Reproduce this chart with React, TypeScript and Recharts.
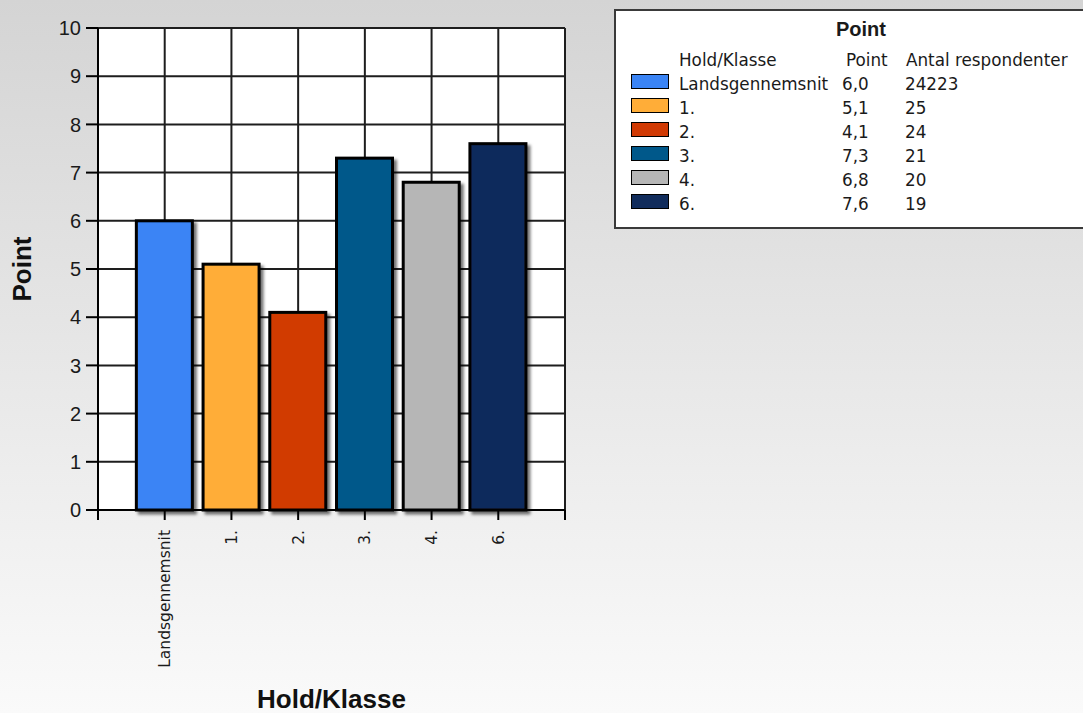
import React from 'react';
import {
  BarChart,
  Bar,
  Cell,
  XAxis,
  YAxis,
  CartesianGrid,
  Legend,
  Label,
} from 'recharts';

// Hold/Klasse categories and their scores
const categories = ['Landsgennemsnit', '1.', '2.', '3.', '4.', '6.'];
const points = [6.0, 5.1, 4.1, 7.3, 6.8, 7.6];
const respondents = [24223, 25, 24, 21, 20, 19];
const colors = ['#3a84f5', '#ffad38', '#d13a04', '#00588a', '#b6b6b6', '#112c5c'];
const yTicks = [0, 1, 2, 3, 4, 5, 6, 7, 8, 9, 10];

const data = categories.map((name, i) => ({
  pos: i + 1,
  name,
  point: points[i],
}));

// one slot of padding on each side of the bars, like the original
const xTicks = Array.from({ length: categories.length + 2 }, (_, i) => i);

const fmt = (v: number) => v.toFixed(1).replace('.', ',');

function ShadowBar(props: any) {
  const { x, y, width, height, fill, index } = props;
  const id = `bar-shadow-${index}`;
  return (
    <g>
      <defs>
        <filter id={id} x="-20%" y="-20%" width="150%" height="150%">
          <feDropShadow dx="3" dy="3" stdDeviation="1.6" floodColor="#000" floodOpacity="0.55" />
        </filter>
      </defs>
      <rect
        x={x}
        y={y}
        width={width}
        height={height}
        fill={fill}
        stroke="#000"
        strokeWidth={3}
        filter={`url(#${id})`}
      />
    </g>
  );
}

function XTick(props: any) {
  const { x, y, payload } = props;
  const label = categories[payload.value - 1];
  if (!label) return null;
  return (
    <text
      x={x}
      y={y}
      dy="0.36em"
      transform={`rotate(-90, ${x}, ${y})`}
      textAnchor="end"
      fill="#1a1a1a"
      fontSize={15.5}
      fontFamily="DejaVu Sans"
    >
      {label}
    </text>
  );
}

const legendFont = { fontFamily: 'DejaVu Sans', fontSize: 16.8, color: '#1a1a1a' };

function PointTable() {
  const rowTop = (k: number) => 36.7 + 24 * k;
  return (
    <div
      style={{
        position: 'relative',
        width: 490,
        height: 216,
        border: '2px solid #3a3a3a',
        background: '#fff',
        ...legendFont,
      }}
    >
      <div
        style={{
          position: 'absolute',
          top: 5.8,
          left: 0,
          width: '100%',
          height: 24,
          lineHeight: '24px',
          textAlign: 'center',
          fontFamily: 'Liberation Sans',
          fontWeight: 'bold',
          fontSize: 20,
        }}
      >
        Point
      </div>
      <div style={{ position: 'absolute', top: rowTop(0), height: 24, lineHeight: '24px', left: 63 }}>
        Hold/Klasse
      </div>
      <div style={{ position: 'absolute', top: rowTop(0), height: 24, lineHeight: '24px', left: 230 }}>
        Point
      </div>
      <div style={{ position: 'absolute', top: rowTop(0), height: 24, lineHeight: '24px', left: 290 }}>
        Antal respondenter
      </div>
      {categories.map((name, i) => (
        <React.Fragment key={name}>
          <div
            style={{
              position: 'absolute',
              top: rowTop(i + 1) + 2.6,
              left: 15,
              width: 36,
              height: 13,
              background: colors[i],
              border: '1.5px solid #000',
            }}
          />
          <div style={{ position: 'absolute', top: rowTop(i + 1), height: 24, lineHeight: '24px', left: 63 }}>
            {name}
          </div>
          <div style={{ position: 'absolute', top: rowTop(i + 1), height: 24, lineHeight: '24px', left: 226 }}>
            {fmt(points[i])}
          </div>
          <div style={{ position: 'absolute', top: rowTop(i + 1), height: 24, lineHeight: '24px', left: 289 }}>
            {respondents[i]}
          </div>
        </React.Fragment>
      ))}
    </div>
  );
}

export default function App() {
  return (
    <div
      style={{
        position: 'absolute',
        left: 0,
        top: 0,
        width: 1083,
        height: 713,
        overflow: 'hidden',
        background: 'linear-gradient(#d4d4d4, #fafafa)',
      }}
    >
      <BarChart
        width={1083}
        height={713}
        data={data}
        margin={{ top: 28, right: 518, bottom: 0, left: 0 }}
      >
        <CartesianGrid stroke="#1e1e1e" strokeWidth={2} fill="#fff" />
        <XAxis
          dataKey="pos"
          type="number"
          domain={[0, categories.length + 1]}
          ticks={xTicks}
          interval={0}
          height={203}
          tickSize={10}
          tickMargin={10}
          tick={<XTick />}
          axisLine={{ stroke: '#000', strokeWidth: 2 }}
          tickLine={{ stroke: '#000', strokeWidth: 2 }}
        >
          <Label
            content={({ viewBox }: any) => (
              <text
                x={viewBox.x + viewBox.width / 2}
                y={viewBox.y + viewBox.height - 5}
                textAnchor="middle"
                fontFamily="Liberation Sans"
                fontWeight="bold"
                fontSize={26}
                fill="#111"
              >
                Hold/Klasse
              </text>
            )}
          />
        </XAxis>
        <YAxis
          type="number"
          domain={[0, 10]}
          ticks={yTicks}
          interval={0}
          width={98}
          tickSize={12}
          tickMargin={5}
          tick={{ fill: '#1a1a1a', fontSize: 20, fontFamily: 'Liberation Sans' }}
          axisLine={{ stroke: '#000', strokeWidth: 2 }}
          tickLine={{ stroke: '#000', strokeWidth: 2 }}
        >
          <Label
            content={({ viewBox }: any) => {
              const cx = viewBox.x + 22;
              const cy = viewBox.y + viewBox.height / 2;
              return (
                <text
                  x={cx}
                  y={cy}
                  dy="0.35em"
                  transform={`rotate(-90, ${cx}, ${cy})`}
                  textAnchor="middle"
                  fontFamily="Liberation Sans"
                  fontWeight="bold"
                  fontSize={26}
                  fill="#111"
                >
                  Point
                </text>
              );
            }}
          />
        </YAxis>
        <Bar dataKey="point" barSize={56} isAnimationActive={false} shape={<ShadowBar />}>
          {data.map((d, i) => (
            <Cell key={d.name} fill={colors[i]} />
          ))}
        </Bar>
        <Legend
          layout="horizontal"
          verticalAlign="middle"
          align="center"
          content={() => <PointTable />}
          wrapperStyle={{ left: 614, top: 9, width: 494, height: 220 }}
        />
      </BarChart>
    </div>
  );
}
